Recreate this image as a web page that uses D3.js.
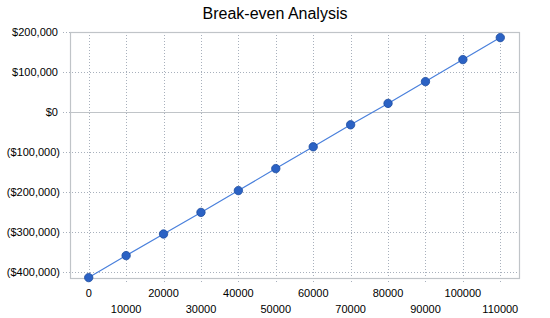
<!DOCTYPE html>
<html><head><meta charset="utf-8">
<script src="https://cdn.jsdelivr.net/npm/d3@7"></script>
<style>
html,body{margin:0;padding:0;background:#fff;}
svg{display:block;font-family:"Liberation Sans",Arial,sans-serif;}
</style></head>
<body>
<svg id="chart" width="550" height="318"></svg>
<script>
const title = "Break-even Analysis";
const categories = ["0","10000","20000","30000","40000","50000","60000","70000","80000","90000","100000","110000"];
const values = [-414000,-359000,-305000,-251000,-196500,-141500,-87000,-32000,21500,76000,131000,186000];
const yTicks = [-400000,-300000,-200000,-100000,0,100000,200000];

const svg = d3.select("#chart");
const L = 70, R = 519, T = 32, B = 277.6;

const x = d3.scaleBand().domain(categories).range([L, R]).padding(0);
const y = d3.scaleLinear().domain([-414000, 200000]).range([B, T]);
const cx = d => x(d) + x.bandwidth()/2;

const fmt = v => v < 0 ? "($" + d3.format(",")(-v) + ")" : "$" + d3.format(",")(v);

svg.append("text").attr("x", 275).attr("y", 19).attr("text-anchor","middle")
  .attr("font-size", 16).attr("fill","#000").text(title);

// horizontal gridlines
svg.append("g").selectAll("line").data(yTicks.filter(t => t !== 0 && t !== 200000)).join("line")
  .attr("x1", L-7).attr("x2", R).attr("y1", d => Math.round(y(d))+0.5).attr("y2", d => Math.round(y(d))+0.5)
  .attr("stroke","#a8b0bc").attr("stroke-dasharray","1,2");
// tick for top
svg.append("line").attr("x1", L-7).attr("x2", L).attr("y1", Math.round(y(200000))+0.5).attr("y2", Math.round(y(200000))+0.5)
  .attr("stroke","#a8b0bc").attr("stroke-dasharray","1,2");
// zero line tick
svg.append("line").attr("x1", L-7).attr("x2", L).attr("y1", Math.round(y(0))+0.5).attr("y2", Math.round(y(0))+0.5)
  .attr("stroke","#a8b0bc").attr("stroke-dasharray","1,2");

// vertical gridlines
svg.append("g").selectAll("line").data(categories).join("line")
  .attr("x1", d => Math.round(cx(d))+0.5).attr("x2", d => Math.round(cx(d))+0.5)
  .attr("y1", T).attr("y2", B+6)
  .attr("stroke","#a8b0bc").attr("stroke-dasharray","1,2");

// zero line
svg.append("line").attr("x1", L).attr("x2", R).attr("y1", Math.round(y(0))+0.5).attr("y2", Math.round(y(0))+0.5)
  .attr("stroke","#c0c4c8").attr("stroke-width",1);

// border
svg.append("rect").attr("x", L+0.5).attr("y", T+0.5).attr("width", R-L).attr("height", Math.round(B-T))
  .attr("fill","none").attr("stroke","#c0c4c8").attr("stroke-width",1.2);

// y labels
svg.append("g").selectAll("text").data(yTicks).join("text")
  .attr("x", d => d < 0 ? 60 : 58).attr("y", d => y(d)+4).attr("text-anchor","end")
  .attr("font-size", 11).attr("fill","#000").text(fmt);

// x labels
svg.append("g").selectAll("text").data(categories).join("text")
  .attr("x", d => cx(d)).attr("y", (d,i) => i % 2 === 0 ? 297 : 313)
  .attr("text-anchor","middle").attr("font-size", 11).attr("fill","#000").text(d => d);

// line
const line = d3.line().x((d,i) => cx(categories[i])).y(d => y(d));
svg.append("path").datum(values).attr("d", line).attr("fill","none")
  .attr("stroke","#4a80dc").attr("stroke-width",1.2);

svg.append("g").selectAll("circle").data(values).join("circle")
  .attr("cx", (d,i) => cx(categories[i])).attr("cy", d => y(d)).attr("r", 4.2)
  .attr("fill","#2b62c4").attr("stroke","#1a4a9e").attr("stroke-width",0.8);
</script>
</body></html>
